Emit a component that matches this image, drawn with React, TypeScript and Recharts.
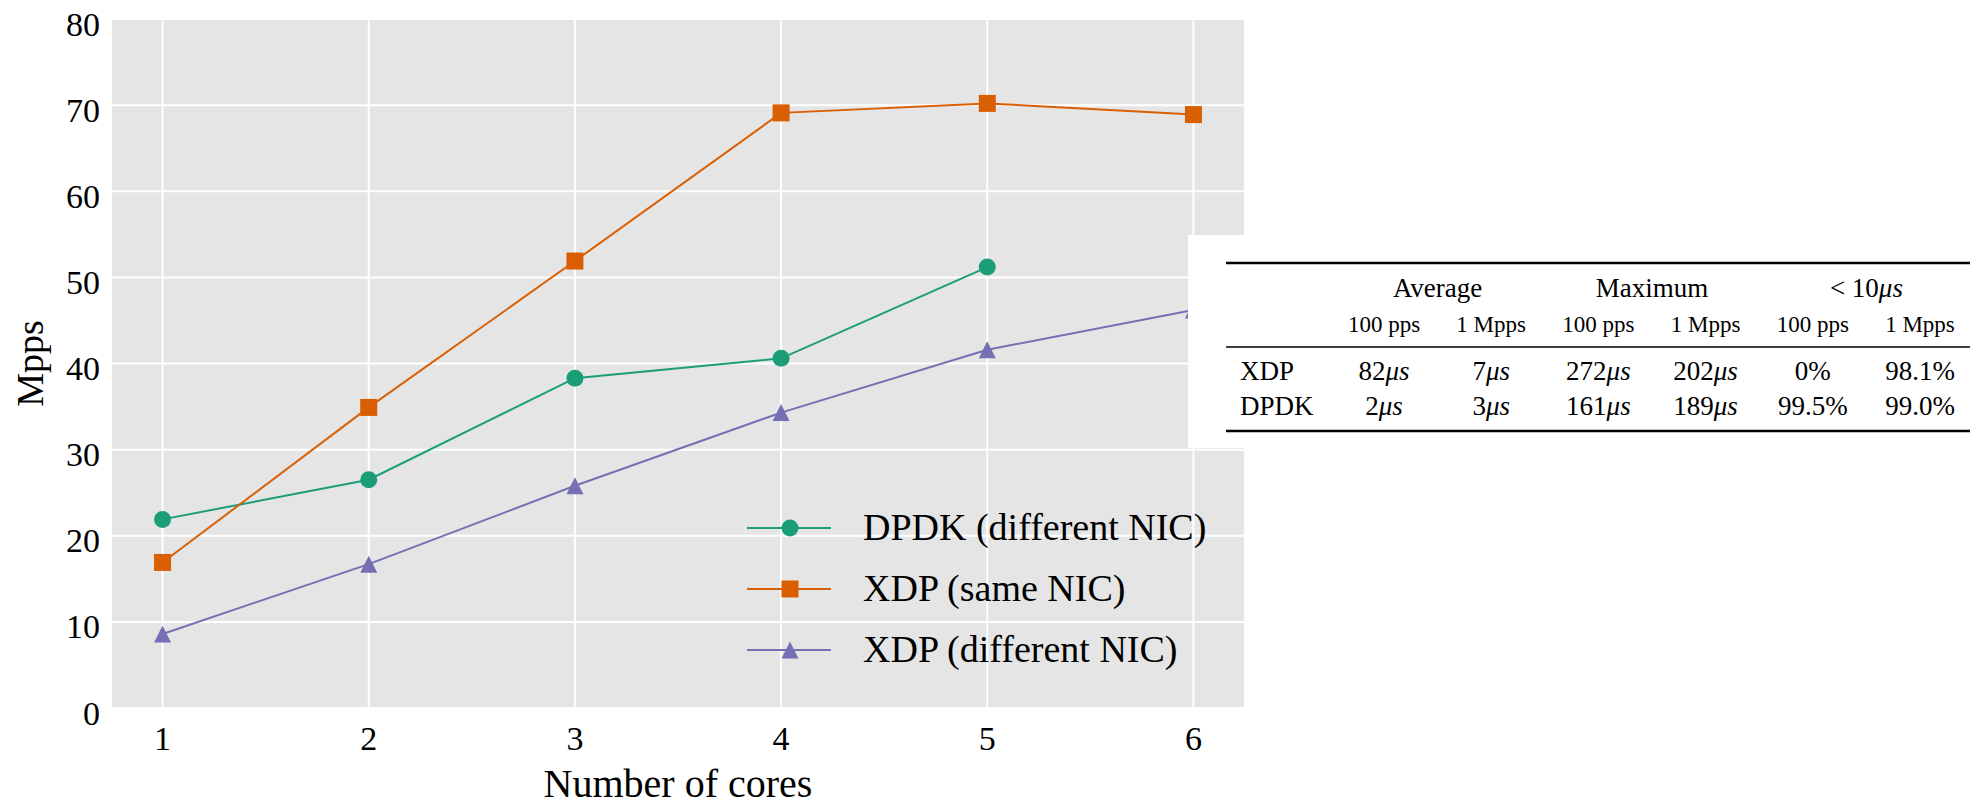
import React from 'react';
import { LineChart, Line, XAxis, YAxis, CartesianGrid, Legend } from 'recharts';

const CORES = [1, 2, 3, 4, 5, 6];
const DPDK_DIFF = [21.9, 26.5, 38.3, 40.6, 51.2, null];
const XDP_SAME = [16.9, 34.9, 51.9, 69.1, 70.2, 68.9];
const XDP_DIFF = [8.6, 16.7, 25.8, 34.3, 41.6, 46.2];
const Y_TICKS = [0, 10, 20, 30, 40, 50, 60, 70, 80];

const SERIES = [
  { key: 'dpdkDiff', name: 'DPDK (different NIC)', color: '#1b9e77', shape: 'circle' },
  { key: 'xdpSame', name: 'XDP (same NIC)', color: '#d95f02', shape: 'square' },
  { key: 'xdpDiff', name: 'XDP (different NIC)', color: '#7570b3', shape: 'triangle' },
];

// latency table shown beside the plot
const TABLE_GROUPS = ['Average', 'Maximum', '< 10μs'];
const TABLE_RATES = ['100 pps', '1 Mpps'];
const TABLE_ROW_LABELS = ['XDP', 'DPDK'];
const XDP_LATENCY = ['82μs', '7μs', '272μs', '202μs', '0%', '98.1%'];
const DPDK_LATENCY = ['2μs', '3μs', '161μs', '189μs', '99.5%', '99.0%'];

const FONT = "'Liberation Serif', 'Times New Roman', serif";

// chart layout
const CHART_W = 1260;
const CHART_H = 805;
const PLOT_TOP = 19;
const X_AXIS_H = 97;
const Y_AXIS_W = 111;

const data = CORES.map((c, i) => ({
  cores: c,
  dpdkDiff: DPDK_DIFF[i],
  xdpSame: XDP_SAME[i],
  xdpDiff: XDP_DIFF[i],
}));

const Marker = ({ shape, cx, cy, color, size = 17 }: any) => {
  const h = size / 2;
  if (shape === 'circle') return <circle cx={cx} cy={cy} r={h} fill={color} />;
  if (shape === 'square') return <rect x={cx - h} y={cy - h} width={size} height={size} fill={color} />;
  return <polygon points={`${cx},${cy - h} ${cx - h},${cy + h} ${cx + h},${cy + h}`} fill={color} />;
};

const makeDot = (shape: string, color: string) => (props: any) => {
  const { cx, cy, index } = props;
  if (cx == null || cy == null || props.value == null) return <g key={`d-${index}`} />;
  return <Marker key={`d-${index}`} shape={shape} cx={cx} cy={cy} color={color} />;
};

const renderLegend = (props: any) => {
  const payload = props.payload || [];
  // keep the plotting order, not the alphabetical one
  const items = SERIES.map((s) => {
    const entry = payload.find((e: any) => e.dataKey === s.key);
    return { ...s, label: entry ? entry.value : s.name };
  });
  return (
    <div style={{ fontFamily: FONT, fontSize: 38, color: '#000' }}>
      {items.map((s) => (
        <div key={s.key} style={{ display: 'flex', alignItems: 'center', height: 61, whiteSpace: 'nowrap' }}>
          <svg width={84} height={30} style={{ display: 'block' }}>
            <line x1={0} y1={15} x2={84} y2={15} stroke={s.color} strokeWidth={2} />
            <Marker shape={s.shape} cx={43} cy={15} color={s.color} />
          </svg>
          <span style={{ marginLeft: 32, lineHeight: '61px' }}>{s.label}</span>
        </div>
      ))}
    </div>
  );
};

const mathText = (s: string) => {
  if (s.endsWith('μs')) {
    return (
      <>
        <tspan>{s.slice(0, -2)}</tspan>
        <tspan fontStyle="italic">μs</tspan>
      </>
    );
  }
  return s;
};

const LatencyTable = () => {
  const colX = (i: number) => 196 + i * 107.2;
  const rows = [XDP_LATENCY, DPDK_LATENCY];
  const rowY = [145, 180];
  return (
    <div style={{ position: 'absolute', left: 1188, top: 235, width: 792, height: 213, background: '#fff' }}>
      <svg width={792} height={213} style={{ fontFamily: FONT, display: 'block' }}>
        <line x1={38} x2={782} y1={28} y2={28} stroke="#000" strokeWidth={2.5} />
        <line x1={38} x2={782} y1={112} y2={112} stroke="#000" strokeWidth={1.5} />
        <line x1={38} x2={782} y1={196} y2={196} stroke="#000" strokeWidth={2.5} />
        {TABLE_GROUPS.map((g, gi) => (
          <text key={g} x={(colX(gi * 2) + colX(gi * 2 + 1)) / 2} y={62} textAnchor="middle" fontSize={27}>
            {mathText(g)}
          </text>
        ))}
        {TABLE_GROUPS.flatMap((g, gi) =>
          TABLE_RATES.map((r, ri) => (
            <text key={`${g}-${r}`} x={colX(gi * 2 + ri)} y={97} textAnchor="middle" fontSize={23}>
              {r}
            </text>
          ))
        )}
        {TABLE_ROW_LABELS.map((label, ri) => (
          <g key={label}>
            <text x={52} y={rowY[ri]} fontSize={27}>{label}</text>
            {rows[ri].map((v, ci) => (
              <text key={ci} x={colX(ci)} y={rowY[ri]} textAnchor="middle" fontSize={27}>
                {mathText(v)}
              </text>
            ))}
          </g>
        ))}
      </svg>
    </div>
  );
};

export default function App() {
  const plotMidY = PLOT_TOP + (CHART_H - PLOT_TOP - X_AXIS_H) / 2;
  return (
    <div style={{ position: 'absolute', left: 0, top: 0, width: 1980, height: 805, background: '#fff', overflow: 'hidden' }}>
      <LineChart width={CHART_W} height={CHART_H} data={data} margin={{ top: PLOT_TOP, right: 15, bottom: 0, left: 0 }}>
        <CartesianGrid fill="#e5e5e5" stroke="#ffffff" strokeWidth={2} />
        <XAxis
          type="number"
          dataKey="cores"
          domain={[0.75, 6.25]}
          ticks={CORES}
          axisLine={false}
          tickLine={false}
          tickMargin={12}
          height={X_AXIS_H}
          tick={{ fill: '#000', fontSize: 34, fontFamily: FONT }}
          label={{
            content: (p: any) => {
              const vb = p.viewBox || { x: 0, y: 0, width: 0, height: 0 };
              return (
                <text x={vb.x + vb.width / 2} y={CHART_H - 8} textAnchor="middle" fontSize={40} fontFamily={FONT} fill="#000">
                  Number of cores
                </text>
              );
            },
          }}
        />
        <YAxis
          type="number"
          domain={[0, 80]}
          ticks={Y_TICKS}
          axisLine={false}
          tickLine={false}
          tickMargin={5}
          width={Y_AXIS_W}
          tick={{ fill: '#000', fontSize: 34, fontFamily: FONT, dy: 4.5 }}
          label={{
            content: () => (
              <text x={43} y={plotMidY} transform={`rotate(-90 43 ${plotMidY})`} textAnchor="middle" fontSize={38} fontFamily={FONT} fill="#000">
                Mpps
              </text>
            ),
          }}
        />
        {SERIES.map((s) => (
          <Line
            key={s.key}
            type="linear"
            dataKey={s.key}
            name={s.name}
            stroke={s.color}
            strokeWidth={2}
            dot={makeDot(s.shape, s.color)}
            activeDot={false}
            isAnimationActive={false}
          />
        ))}
        <Legend
          layout="vertical"
          align="center"
          verticalAlign="middle"
          content={renderLegend}
          wrapperStyle={{ left: 747, top: 497, width: 'auto', height: 'auto' }}
        />
      </LineChart>
      <LatencyTable />
    </div>
  );
}
